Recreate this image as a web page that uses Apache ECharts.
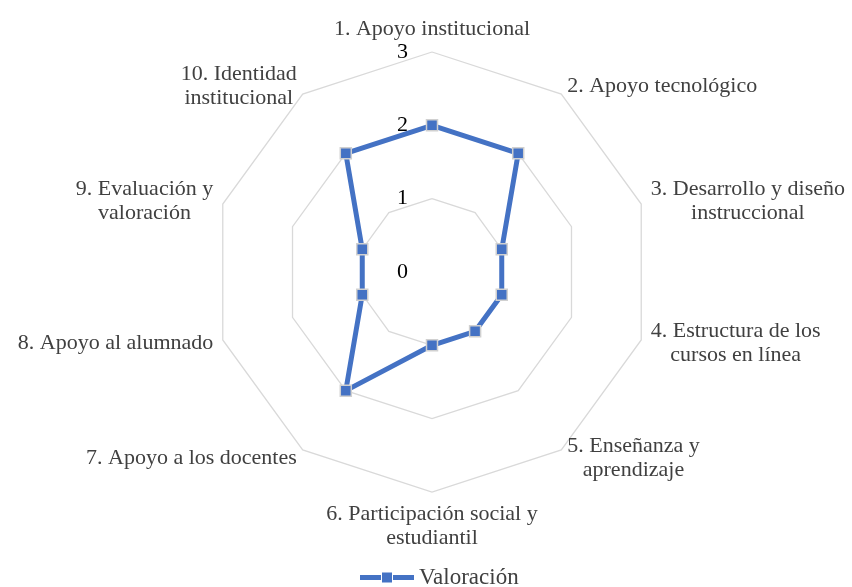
<!DOCTYPE html>
<html>
<head>
<meta charset="utf-8">
<script src="https://cdn.jsdelivr.net/npm/echarts@6/dist/echarts.min.js"></script>
<style>
	html, body { margin: 0; padding: 0; background: #fff; }
	#chart { width: 852px; height: 587px; }
</style>
</head>
<body>
<div id="chart"></div>
<script>
// dimensiones del radar (orden horario desde arriba)
var dimensiones = [
	"1. Apoyo institucional",
	"2. Apoyo tecnológico",
	"3. Desarrollo y diseño\ninstruccional",
	"4. Estructura de los\ncursos en línea",
	"5. Enseñanza y\naprendizaje",
	"6. Participación social y\nestudiantil",
	"7. Apoyo a los docentes",
	"8. Apoyo al alumnado",
	"9. Evaluación y\nvaloración",
	"10. Identidad\ninstitucional"
];
var valoracion = [2, 2, 1, 1, 1, 1, 2, 1, 1, 2];
var escalaMax = 3;
var nombreSerie = "Valoración";

var fuente = "'Liberation Serif', 'Times New Roman', serif";
var azul = "#4472C4";
var tam = 22;

// echarts dibuja el radar en sentido antihorario: invertir el orden menos el primero
var orden = [0];
for (var k = dimensiones.length - 1; k > 0; k--) orden.push(k);

var indicadores = [];
var valores = [];
for (var i = 0; i < orden.length; i++) {
	var ind = { name: dimensiones[orden[i]], min: 0, max: escalaMax };
	if (i > 0) ind.axisLabel = { show: false };
	indicadores.push(ind);
	valores.push(valoracion[orden[i]]);
}

var myChart = echarts.init(document.getElementById("chart"));
myChart.setOption({
	animation: false,
	legend: {
		bottom: -7,
		left: 355,
		itemWidth: 54,
		itemHeight: 12,
		icon: 'path://M0,3.5h21v5h-21z M22,1h10v10h-10z M33,3.5h21v5h-21z',
		itemStyle: { color: azul, borderWidth: 0 },
		textStyle: { fontFamily: fuente, fontSize: 23, color: '#404040' },
		data: [nombreSerie]
	},
	radar: {
		center: [432, 272],
		radius: 220,
		startAngle: 90,
		shape: 'polygon',
		splitNumber: 3,
		nameGap: 10,
		indicator: indicadores,
		axisName: {
			color: '#404040',
			fontFamily: fuente,
			fontSize: tam,
			lineHeight: 24,
			formatter: function (name) {
				return name.split("\n").map(function (s) {
					return "{c|" + s + "}";
				}).join("\n");
			},
			rich: {
				c: { align: 'center', fontFamily: fuente, fontSize: tam, lineHeight: 24, color: '#404040' }
			}
		},
		axisLine: { show: false },
		axisTick: { show: false },
		splitArea: { show: false },
		splitLine: { lineStyle: { color: '#d9d9d9', width: 1.3 } },
		axisLabel: {
			show: true,
			margin: 24,
			fontFamily: fuente,
			fontSize: tam,
			color: '#000',
			showMinLabel: true,
			showMaxLabel: true
		}
	},
	series: [{
		name: nombreSerie,
		type: 'radar',
		symbol: 'rect',
		symbolSize: 11,
		lineStyle: { color: azul, width: 5 },
		itemStyle: { color: azul, borderColor: '#d0d0d0', borderWidth: 1.5 },
		data: [{ value: valores, name: nombreSerie }]
	}]
});
</script>
</body>
</html>
